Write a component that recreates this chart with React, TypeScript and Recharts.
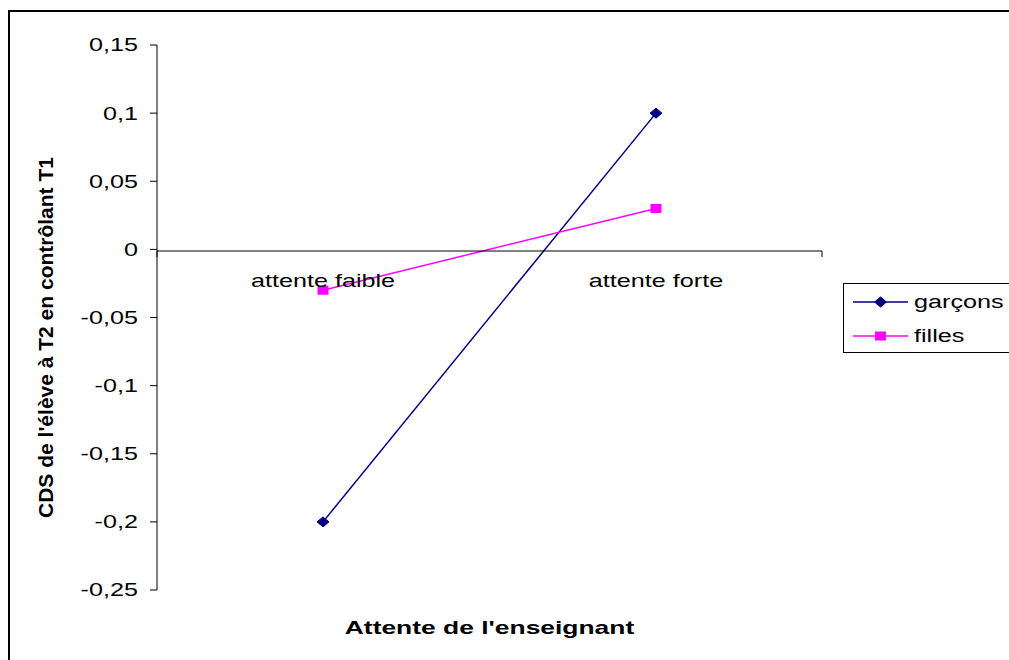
import { Legend, Line, LineChart, XAxis, YAxis } from 'recharts';

const categories = ['attente faible', 'attente forte'];
const garcons = [-0.2, 0.1];
const filles = [-0.03, 0.03];
const yTicks = [0.15, 0.1, 0.05, 0, -0.05, -0.1, -0.15, -0.2, -0.25];
// category boundaries (tick marks sit between the categories, Excel style)
const catEdges = [0, 1, 2];
const seriesOrder = ['garcons', 'filles'];

const NAVY = '#000080';
const MAGENTA = '#ff00ff';
const FONT = '"Liberation Sans", Arial, sans-serif';
const STRETCH = 1.4;

const rows = categories.map((cat, i) => ({ cat, garcons: garcons[i], filles: filles[i] }));

const fmt = (v: number) => String(v).replace('.', ',');

function diamond(cx: number, cy: number, color: string, key?: string) {
  return (
    <polygon
      key={key}
      points={`${cx},${cy - 5} ${cx + 6},${cy} ${cx},${cy + 5} ${cx - 6},${cy}`}
      fill={color}
      stroke={color}
    />
  );
}

function square(cx: number, cy: number, color: string, key?: string) {
  return <rect key={key} x={cx - 5.5} y={cy - 4.5} width={11} height={9} fill={color} />;
}

function YTick({ x, y, payload }: any) {
  return (
    <g transform={`translate(${x},${y})`}>
      <text textAnchor="end" dy="0.36em" transform={`scale(${STRETCH},1)`} fontSize={18} fontFamily={FONT} fill="#000">
        {fmt(payload.value)}
      </text>
    </g>
  );
}

function CatTick({ x, y, payload }: any) {
  return (
    <g transform={`translate(${x},${y})`}>
      <text textAnchor="middle" dy="0.71em" transform={`scale(${STRETCH},1)`} fontSize={18} fontFamily={FONT} fill="#000">
        {payload.value}
      </text>
    </g>
  );
}

function YTitle({ viewBox }: any) {
  const { x, y, height } = viewBox;
  return (
    <text
      transform={`translate(${x + 28},${y + height / 2 + 20}) rotate(-90)`}
      textAnchor="middle"
      dy="0.36em"
      fontSize={21}
      fontWeight="bold"
      fontFamily={FONT}
      fill="#000"
    >
      CDS de l'élève à T2 en contrôlant T1
    </text>
  );
}

function XTitle({ viewBox }: any) {
  const { x, y, width } = viewBox;
  return (
    <g transform={`translate(${x + width / 2},${y + 44})`}>
      <text textAnchor="middle" transform="scale(1.39,1)" fontSize={19} fontWeight="bold" fontFamily={FONT} fill="#000">
        Attente de l'enseignant
      </text>
    </g>
  );
}

function LegendBox({ payload }: any) {
  const items = [...(payload || [])].sort(
    (a: any, b: any) => seriesOrder.indexOf(a.dataKey) - seriesOrder.indexOf(b.dataKey),
  );
  return (
    <div
      style={{
        border: '1px solid #000',
        background: '#fff',
        height: 70,
        width: 200,
        boxSizing: 'border-box',
        paddingTop: 1,
        fontFamily: FONT,
      }}
    >
      {items.map((p: any) => (
        <div key={p.dataKey} style={{ display: 'flex', alignItems: 'center', height: 34 }}>
          <svg width={70} height={14} style={{ display: 'block', flex: 'none' }}>
            <line x1={9} x2={64} y1={7} y2={7} stroke={p.color} strokeWidth={1.5} />
            {p.dataKey === 'garcons' ? diamond(36.5, 7, p.color) : square(36.5, 7, p.color)}
          </svg>
          <span
            style={{
              display: 'inline-block',
              fontSize: 18,
              lineHeight: '18px',
              color: '#000',
              transform: `scaleX(${STRETCH})`,
              transformOrigin: '0 50%',
              whiteSpace: 'nowrap',
            }}
          >
            {p.value}
          </span>
        </div>
      ))}
    </div>
  );
}

export default function App() {
  return (
    <div
      style={{
        position: 'fixed',
        left: 0,
        top: 0,
        width: 1009,
        height: 660,
        overflow: 'hidden',
        background: '#fff',
        fontFamily: FONT,
      }}
    >
      <div
        style={{
          position: 'absolute',
          left: 8,
          top: 10,
          width: 1100,
          height: 700,
          border: '2px solid #000',
        }}
      />
      <div style={{ position: 'absolute', left: 0, top: 0 }}>
        <LineChart width={1009} height={660} data={rows} margin={{ top: 45, right: 187, bottom: 20, left: 17 }}>
          <XAxis
            dataKey="cat"
            padding={{ left: 166, right: 166 }}
            axisLine={false}
            tickLine={false}
            tick={false}
            height={50}
            label={(p: any) => <XTitle {...p} />}
          />
          <YAxis
            type="number"
            domain={[-0.25, 0.15]}
            ticks={yTicks}
            interval={0}
            width={140}
            tickSize={7}
            tickMargin={12}
            axisLine={{ stroke: '#000' }}
            tickLine={{ stroke: '#000' }}
            tick={(p: any) => <YTick {...p} />}
            label={(p: any) => <YTitle {...p} />}
          />
          <Legend
            layout="vertical"
            align="center"
            verticalAlign="middle"
            itemSorter={(item: any) => seriesOrder.indexOf(item.dataKey)}
            content={(p: any) => <LegendBox {...p} />}
            wrapperStyle={{ left: 843, top: 283, width: 200 }}
          />
          <Line
            type="linear"
            dataKey="garcons"
            name="garçons"
            stroke={NAVY}
            strokeWidth={1.5}
            dot={(p: any) => diamond(p.cx, p.cy, NAVY, `g-${p.index}`)}
            activeDot={false}
            isAnimationActive={false}
          />
          <Line
            type="linear"
            dataKey="filles"
            name="filles"
            stroke={MAGENTA}
            strokeWidth={1.5}
            dot={(p: any) => square(p.cx, p.cy, MAGENTA, `f-${p.index}`)}
            activeDot={false}
            isAnimationActive={false}
          />
        </LineChart>
      </div>
      {/* horizontal axis drawn at y = 0, with its category labels just below */}
      <div style={{ position: 'absolute', left: 0, top: 0, pointerEvents: 'none' }}>
        <LineChart width={1009} height={320} data={rows} margin={{ top: 45, right: 187, bottom: 68, left: 157 }}>
          <XAxis
            xAxisId="edges"
            type="number"
            domain={[0, 2]}
            allowDataOverflow
            ticks={catEdges}
            interval={0}
            height={1}
            tickSize={6}
            axisLine={{ stroke: '#000' }}
            tickLine={{ stroke: '#000' }}
            tick={() => <g />}
          />
          <XAxis
            xAxisId="cat"
            dataKey="cat"
            padding={{ left: 166, right: 166 }}
            interval={0}
            height={1}
            tickSize={0}
            tickMargin={24}
            axisLine={false}
            tickLine={false}
            tick={(p: any) => <CatTick {...p} />}
          />
        </LineChart>
      </div>
    </div>
  );
}
